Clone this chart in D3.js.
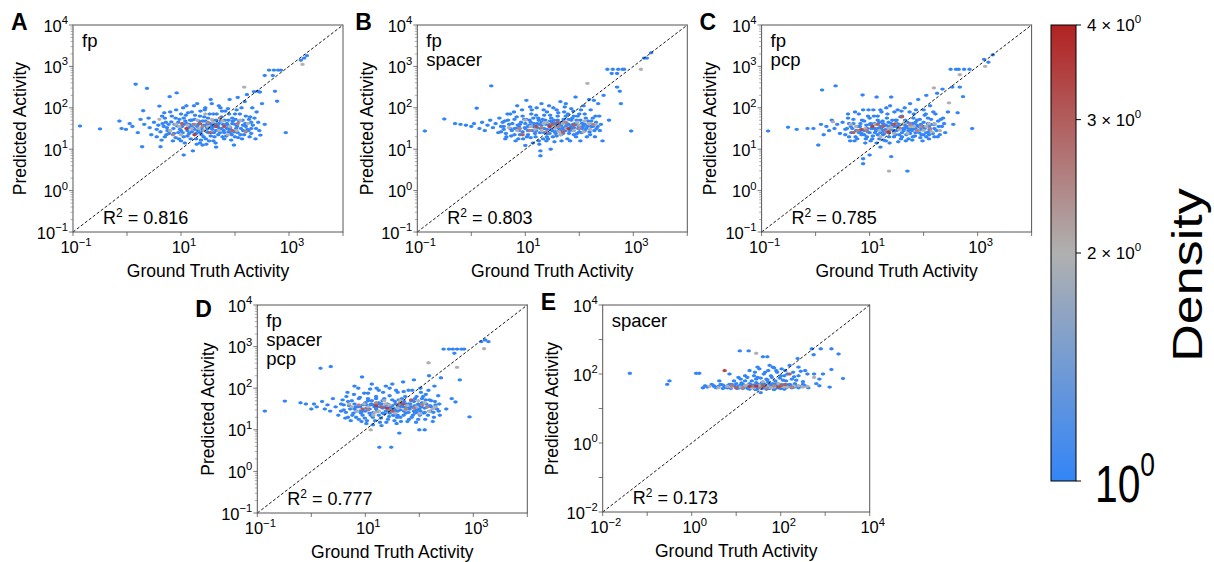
<!DOCTYPE html>
<html>
<head>
<meta charset="utf-8">
<script src="https://cdn.jsdelivr.net/npm/d3@7"></script>
<style>
  body { margin: 0; background: #fff; }
  text { font-family: "Liberation Sans", Arial, sans-serif; fill: #000; }
</style>
</head>
<body>
<svg id="fig" width="1214" height="562"></svg>
<script>
// points are [log10(ground truth), log10(predicted), density]; density defaults to 1
var dataA = [
  [-0.87,1.56],[-0.5,1.49],[0.16,2.57],[0.37,2.47],[-0.14,1.68],[-0.1,1.5],[-0.02,1.48],[0.05,1.62],[0.1,1.55],[0.2,1.4],
  [0.25,1.72],[0.3,1.93],[0.28,1.06],[0.32,1.6],[0.4,1.75],[0.42,1.52],[0.45,1.35],[0.5,1.65],[0.55,1.48],[0.6,2.04],
  [0.62,1.06],[0.65,1.8],[0.68,1.55],[0.7,1.3],[0.72,1.65],[0.79,2.27],[0.75,1.45],[0.8,1.9],[0.85,1.2],[0.88,1.6],
  [0.92,2.36],[0.9,1.75],[0.95,1.4],[1.0,1.85],[1.02,1.55],[1.05,0.86],[1.05,1.3],[1.08,1.68],[1.1,2.05],[1.12,1.45],
  [1.15,1.6],[1.18,1.25],[1.2,1.9],[1.22,0.96],[1.22,1.52],[1.25,1.72],[1.28,1.38],[1.3,2.1],[1.32,1.6],[1.35,1.15],
  [1.35,1.8],[1.38,1.5],[1.4,1.68],[1.42,1.3],[1.45,2.0],[1.45,1.58],[1.48,1.42],[1.5,1.75],[1.52,1.2],[1.55,1.62],
  [1.55,2.2],[1.58,1.48],[1.6,1.85],[1.62,1.3],[1.65,1.7],[1.65,1.05],[1.68,1.55],[1.7,2.05],[1.72,1.4],[1.75,1.78],
  [1.78,1.6],[1.8,1.25],[1.82,1.92],[1.85,1.5],[1.88,1.7],[1.9,2.2],[1.92,1.38],[1.95,1.62],[1.98,1.1],[2.0,1.85],
  [2.02,1.5],[2.05,2.25],[2.08,1.68],[2.1,1.35],[2.12,2.0],[2.15,1.58],[2.2,1.8],[2.22,2.32],[2.25,1.45],[2.3,1.65],
  [2.35,2.39],[2.38,1.25],[2.4,1.9],[2.42,2.4],[2.46,2.38],[2.47,1.34],[2.5,2.1],[2.55,2.78],[2.55,1.6],[2.63,2.91],
  [2.7,2.78],[2.74,2.4],[2.78,2.16],[2.72,2.91],[2.8,2.91],[2.85,2.91],[2.94,1.4],[3.22,3.15],[3.33,3.26],[3.28,3.2],
  [1.0,1.45],[1.1,1.62],[1.2,1.7],[1.3,1.55],[1.4,1.45],[1.5,1.5],[1.6,1.55],[1.7,1.62],[1.8,1.4],[1.9,1.48],
  [2.0,1.6],[1.15,1.38],[1.25,1.48],[1.45,1.68],[1.55,1.32],[1.75,1.5],[1.85,1.62],[1.95,1.75],[2.05,1.4],[2.2,1.55],
  [0.95,1.65],[1.05,1.75],[1.35,1.4],[1.65,1.45],[2.15,1.45],[2.3,1.5],[2.28,1.78],[2.0,1.3],[1.6,1.2],[1.4,1.1],
  [2.17,2.5,2],[3.25,3.05,2],[0.9,1.6,2],[1.2,1.5,2],[1.5,1.55,2],[1.7,1.45,2],[1.3,1.7,2],[1.9,1.55,2],[2.1,1.7,2],
  [1.0,1.35,2],[1.6,1.65,2],[1.45,1.85,2],[0.8,1.45,2],
  [1.1,1.5,3.5],[1.35,1.62,3],[1.55,1.4,3],[1.8,1.55,3.2],[1.25,1.35,3.5]
];
var coreA = [
  [0.62,1.42],[0.66,1.62],[0.7,1.75],[0.74,1.52],[0.78,1.38],[0.82,1.66],[0.86,1.5],[0.9,1.28],[0.93,1.56],[0.97,1.72],
  [1.0,1.2],[1.03,1.4],[1.06,1.6],[1.09,1.82],[1.12,1.32],[1.14,1.52],[1.17,1.7],[1.2,1.42],[1.23,1.6],[1.26,1.82],
  [1.28,1.25],[1.31,1.45],[1.33,1.68],[1.36,1.92],[1.38,1.35],[1.41,1.58],[1.43,1.78],[1.46,1.25],[1.49,1.6],[1.51,1.4],
  [1.53,1.85],[1.56,1.52],[1.59,1.7],[1.61,1.4],[1.63,1.6],[1.66,1.85],[1.69,1.35],[1.71,1.5],[1.74,1.68],[1.76,1.92],
  [1.79,1.45],[1.81,1.7],[1.84,1.32],[1.86,1.58],[1.89,1.85],[1.91,1.52],[1.94,1.35],[1.96,1.68],[1.99,1.42],[2.01,1.72],
  [2.04,1.55],[2.06,1.28],[2.09,1.85],[2.11,1.5],[2.14,1.7],[2.17,1.35],[2.19,1.62],[2.23,1.48],[2.26,1.72],[2.3,1.38],
  [2.33,1.58],[2.36,1.75],[2.39,1.5],[2.43,1.65],[1.18,1.55],[1.48,1.52],[1.68,1.6],[1.88,1.42],[0.98,1.48],[1.58,1.58]
];
var fillA = [
  [0.55,1.3],[0.58,1.58],[0.64,1.22],[0.69,1.88],[0.73,1.35],[0.77,1.6],[0.83,1.8],[0.87,1.38],[0.91,1.95],[0.96,1.25],
  [1.04,2.0],[1.07,1.15],[1.13,1.88],[1.24,2.05],[1.29,1.12],[1.37,1.22],[1.44,1.95],[1.47,1.12],[1.57,2.1],[1.64,1.15],
  [1.73,2.0],[1.77,1.3],[1.87,1.98],[1.93,1.22],[2.03,1.95],[2.13,1.25],[2.18,2.15],[2.27,1.3],[2.32,2.0],[2.45,1.45],
  [0.6,1.72,2],[1.12,1.58,2],[1.33,1.5,2],[1.57,1.72,2],[1.77,1.68,2],[2.03,1.45,2],[2.24,1.62,2],[1.43,1.45,2],[0.97,1.55,2],[1.87,1.35,2],
  [1.02,1.62,3],[1.65,1.55,3.3],[1.95,1.45,3],[2.05,1.62,2.6],[1.5,1.65,2.5],[1.25,1.6,2.5],[0.85,1.35,2.5],[2.2,1.42,2.5],[1.72,1.75,2.5],[1.4,1.55,2.5]
];
var dataB = [
  [-0.86,1.44],[-0.5,1.73],[-0.3,1.62],[-0.2,1.6],[-0.1,1.58],[0.0,1.55],[0.1,1.99],[0.05,1.62],[0.15,1.5],[0.2,1.65],
  [0.25,1.45],[0.37,2.53],[0.3,1.58],[0.35,1.7],[0.4,1.52],[0.45,1.62],[0.5,1.4],[0.52,1.75],[0.55,1.55],[0.6,1.48],
  [0.62,1.68],[0.65,1.3],[0.7,1.6],[0.72,1.85],[0.75,1.45],[0.8,1.72],[0.82,1.2],[0.85,2.05],[0.88,1.55],[0.9,1.35],
  [0.95,1.8],[1.0,1.09],[1.0,1.62],[1.02,2.18],[1.05,1.45],[1.08,1.7],[1.1,1.28],[1.12,1.95],[1.15,1.55],[1.18,1.38],
  [1.2,1.82],[1.22,1.62],[1.25,1.2],[1.28,0.96],[1.28,0.84],[1.28,1.5],[1.3,2.1],[1.32,1.72],[1.35,1.4],[1.38,1.6],
  [1.4,1.9],[1.42,1.25],[1.45,1.55],[1.47,1.0],[1.48,1.75],[1.5,1.45],[1.52,2.0],[1.55,1.62],[1.58,1.32],[1.6,1.8],
  [1.62,1.5],[1.65,2.15],[1.68,1.65],[1.7,1.38],[1.72,1.9],[1.75,1.55],[1.75,2.1],[1.78,1.25],[1.8,1.72],[1.82,1.45],
  [1.85,1.98],[1.88,1.6],[1.9,1.35],[1.93,2.26],[1.95,1.7],[1.98,1.5],[2.0,1.85],[2.02,1.2],[2.05,1.62],[2.08,2.05],
  [2.1,1.45],[2.12,1.75],[2.15,1.55],[2.18,2.2],[2.2,1.35],[2.22,1.68],[2.27,2.18],[2.3,1.8],[2.32,1.5],[2.35,2.1],
  [2.4,1.6],[2.43,1.2],[2.45,2.3],[2.52,2.93],[2.55,1.7],[2.6,2.83],[2.62,2.93],[2.7,2.5],[2.7,2.83],[2.72,2.93],
  [2.75,2.4],[2.77,2.1],[2.8,2.93],[2.83,2.93],[2.96,1.44],[3.2,3.2],[3.25,3.2],[3.33,3.33],
  [0.9,1.6],[1.0,1.5],[1.1,1.65],[1.2,1.45],[1.3,1.58],[1.4,1.48],[1.5,1.65],[1.6,1.58],[1.7,1.5],[1.8,1.6],
  [1.9,1.52],[2.0,1.42],[1.15,1.75],[1.35,1.82],[1.55,1.42],[1.65,1.45],[1.85,1.7],[1.95,1.6],[2.05,1.5],[0.8,1.5],
  [0.95,1.42],[1.25,1.7],[1.45,1.38],[1.75,1.8],[2.1,1.6],[2.25,1.55],[1.05,1.55],[1.6,1.7],[1.4,1.3],[1.9,1.8],
  [2.15,2.59,2],[3.14,2.93,2],[1.1,1.55,2],[1.3,1.45,2],[1.55,1.5,2],[1.7,1.62,2],[1.9,1.45,2],[2.0,1.58,2],
  [2.2,1.48,2],[1.4,1.65,2],[1.65,1.35,2],[0.85,1.45,2],[2.1,1.68,2],[2.3,1.6,2],
  [1.2,1.55,3.2],[1.45,1.55,3.5],[1.6,1.65,3],[1.8,1.5,3.6],[0.95,1.35,3],[1.7,1.42,3]
];
var coreB = [
  [0.6,1.55],[0.64,1.38],[0.68,1.7],[0.72,1.5],[0.76,1.62],[0.8,1.35],[0.84,1.78],[0.88,1.45],[0.92,1.65],[0.96,1.25],
  [0.99,1.52],[1.02,1.72],[1.05,1.35],[1.08,1.58],[1.11,1.85],[1.13,1.45],[1.16,1.62],[1.19,1.3],[1.22,1.52],[1.24,1.75],
  [1.27,1.4],[1.3,1.65],[1.33,1.25],[1.35,1.5],[1.37,1.7],[1.4,1.38],[1.43,1.6],[1.46,1.82],[1.48,1.48],[1.51,1.3],
  [1.53,1.7],[1.56,1.55],[1.59,1.42],[1.61,1.88],[1.63,1.62],[1.66,1.35],[1.69,1.52],[1.71,1.72],[1.74,1.45],[1.77,1.62],
  [1.79,1.85],[1.81,1.38],[1.84,1.55],[1.87,1.75],[1.89,1.45],[1.92,1.62],[1.94,1.3],[1.97,1.8],[1.99,1.55],[2.02,1.7],
  [2.04,1.4],[2.07,1.55],[2.1,1.85],[2.13,1.5],[2.16,1.68],[2.19,1.42],[2.22,1.55],[2.25,1.75],[2.28,1.45],[2.31,1.65],
  [2.34,1.55],[2.37,1.8],[1.26,1.6],[1.46,1.68],[1.66,1.58],[1.86,1.5],[1.06,1.45],[0.86,1.58],[2.06,1.62],[1.56,1.38]
];
var fillB = [
  [0.55,1.42],[0.58,1.65],[0.63,1.25],[0.67,1.85],[0.74,1.32],[0.79,1.9],[0.83,1.5],[0.87,1.25],[0.94,1.95],[0.98,1.72],
  [1.03,1.3],[1.09,2.02],[1.14,1.15],[1.21,2.0],[1.26,1.12],[1.34,1.95],[1.39,1.2],[1.44,2.05],[1.54,1.18],[1.58,1.95],
  [1.67,1.2],[1.73,2.02],[1.83,1.2],[1.89,1.92],[1.96,1.38],[2.03,1.95],[2.14,1.3],[2.21,1.95],[2.29,1.3],[2.38,1.45],
  [0.7,1.52,2],[1.0,1.7,2],[1.18,1.48,2],[1.34,1.62,2],[1.52,1.55,2],[1.76,1.5,2],[1.96,1.65,2],[2.18,1.62,2],[1.62,1.42,2],[2.08,1.42,2],
  [1.3,1.52,2.6],[1.5,1.6,3],[1.9,1.58,3],[1.08,1.45,2.6],[1.75,1.65,2.5],[2.0,1.5,2.5],[1.4,1.42,2.5],[1.62,1.55,2.5],[0.9,1.5,2.5],[2.25,1.6,2.5]
];
var dataC = [
  [-0.88,1.44],[-0.51,1.53],[-0.35,1.48],[-0.15,1.5],[-0.04,1.5],[0.12,2.43],[0.37,2.53],[0.05,1.1],[0.1,1.6],[0.15,1.35],
  [0.2,1.55],[0.25,1.45],[0.3,1.7],[0.35,1.5],[0.4,1.6],[0.45,1.38],[0.5,1.65],[0.55,1.48],[0.6,1.75],[0.62,1.3],
  [0.65,1.55],[0.7,1.62],[0.72,1.2],[0.75,1.45],[0.8,1.85],[0.82,1.55],[0.85,1.35],[0.87,2.31],[0.88,0.65],[0.88,0.77],
  [0.9,1.68],[0.92,1.15],[0.95,1.5],[0.98,1.95],[1.0,0.86],[1.0,1.4],[1.02,1.62],[1.05,1.25],[1.08,1.8],[1.1,1.5],
  [1.13,2.26],[1.15,1.35],[1.18,1.65],[1.2,1.05],[1.22,1.9],[1.25,1.45],[1.28,1.58],[1.3,1.2],[1.32,1.75],[1.35,1.4],
  [1.38,2.05],[1.4,2.26],[1.4,0.82],[1.42,1.55],[1.45,1.3],[1.48,1.7],[1.5,1.45],[1.52,1.95],[1.55,1.6],[1.58,1.25],
  [1.6,1.8],[1.62,1.5],[1.65,2.0],[1.68,1.35],[1.7,0.47],[1.7,1.65],[1.72,1.45],[1.75,2.1],[1.78,1.58],[1.8,1.3],
  [1.82,1.85],[1.85,1.5],[1.88,1.7],[1.9,2.2],[1.92,1.4],[1.95,1.6],[1.98,1.2],[2.0,1.95],[2.02,1.5],[2.05,2.3],
  [2.08,1.75],[2.1,1.42],[2.12,2.05],[2.15,1.6],[2.2,1.3],[2.22,1.85],[2.25,2.35],[2.28,1.55],[2.32,1.72],[2.35,2.45],
  [2.4,1.4],[2.45,1.9],[2.5,2.93],[2.53,2.5],[2.55,1.6],[2.6,2.93],[2.63,1.88],[2.65,2.93],[2.67,2.5],[2.73,2.27],
  [2.75,2.93],[2.85,2.93],[2.9,1.5],[3.12,3.17],[3.28,3.28],[3.2,3.1],
  [0.9,1.45],[1.0,1.6],[1.1,1.4],[1.2,1.55],[1.3,1.48],[1.4,1.62],[1.5,1.55],[1.6,1.4],[1.7,1.52],[1.8,1.62],
  [1.9,1.55],[2.0,1.65],[2.1,1.55],[1.05,1.5],[1.15,1.7],[1.25,1.35],[1.35,1.55],[1.45,1.45],[1.55,1.35],[1.65,1.58],
  [1.75,1.38],[1.85,1.4],[1.95,1.48],[2.05,1.4],[0.8,1.4],[0.95,1.3],[1.2,1.4],[1.5,1.7],[1.8,1.48],[2.2,1.5],
  [2.19,2.48,2],[2.47,2.12,2],[2.67,2.8,2],[3.14,3.0,2],[1.36,0.47,2],[0.32,1.66,2],[0.75,1.55,2],[1.1,1.6,2],
  [1.35,1.5,2],[1.55,1.48,2],[1.75,1.55,2],[1.9,1.45,2],[2.05,1.55,2],[2.15,1.42,2],[1.45,1.38,2],[1.65,1.65,2],
  [2.3,1.45,2],[1.2,1.3,2],
  [0.85,1.48,3.3],[1.05,1.55,3.5],[1.25,1.55,3],[1.45,1.6,3.2],[1.6,1.78,3],[0.7,1.4,3],[1.35,1.42,3.5]
];
var coreC = [
  [0.58,1.5],[0.62,1.62],[0.66,1.4],[0.7,1.72],[0.74,1.3],[0.78,1.55],[0.82,1.45],[0.86,1.7],[0.9,1.35],[0.94,1.58],
  [0.97,1.42],[1.0,1.75],[1.03,1.5],[1.06,1.32],[1.09,1.62],[1.12,1.45],[1.15,1.8],[1.18,1.25],[1.21,1.5],[1.24,1.68],
  [1.27,1.38],[1.3,1.58],[1.33,1.85],[1.36,1.3],[1.39,1.48],[1.42,1.7],[1.45,1.55],[1.48,1.35],[1.51,1.62],[1.54,1.48],
  [1.57,1.78],[1.6,1.3],[1.63,1.45],[1.66,1.7],[1.69,1.55],[1.72,1.25],[1.75,1.62],[1.78,1.45],[1.81,1.75],[1.84,1.32],
  [1.87,1.58],[1.9,1.45],[1.93,1.72],[1.96,1.35],[1.99,1.55],[2.02,1.82],[2.05,1.3],[2.08,1.62],[2.11,1.48],[2.14,1.72],
  [2.17,1.38],[2.2,1.6],[2.24,1.45],[2.27,1.68],[2.3,1.35],[2.34,1.55],[2.38,1.62],[1.25,1.62],[1.45,1.42],[1.65,1.5],
  [1.85,1.65],[1.05,1.6],[0.85,1.38],[2.0,1.35],[1.55,1.6],[1.75,1.5],[1.35,1.65],[1.15,1.5],[0.95,1.5],[2.1,1.35]
];
var fillC = [
  [0.55,1.35],[0.6,1.85],[0.64,1.2],[0.68,1.5],[0.73,1.9],[0.77,1.25],[0.83,1.62],[0.88,1.95],[0.93,1.25],[0.97,1.8],
  [1.02,1.2],[1.07,1.95],[1.13,1.15],[1.2,1.95],[1.26,1.22],[1.31,2.0],[1.37,1.15],[1.46,1.9],[1.53,1.18],[1.59,1.92],
  [1.67,1.2],[1.74,1.9],[1.79,1.22],[1.86,1.95],[1.94,1.28],[2.04,1.85],[2.1,1.25],[2.18,1.9],[2.26,1.3],[2.36,1.75],
  [0.65,1.6,2],[0.92,1.5,2],[1.18,1.45,2],[1.4,1.52,2],[1.6,1.6,2],[1.82,1.55,2],[2.0,1.45,2],[2.2,1.62,2],[1.7,1.38,2],[2.1,1.62,2],
  [0.95,1.45,2.6],[1.15,1.6,3],[1.55,1.52,2.6],[1.3,1.42,2.5],[1.75,1.6,2.5],[1.95,1.55,2.5],[2.12,1.5,2.5],[0.78,1.45,2.5],[1.48,1.62,2.5],[1.88,1.45,2.5]
];
var dataD = [
  [-0.86,1.45],[-0.49,1.69],[-0.2,1.65],[-0.1,1.62],[0.17,2.48],[0.36,2.52],[0.0,1.5],[0.05,1.62],[0.1,1.55],[0.2,1.68],
  [0.25,1.5],[0.3,1.6],[0.35,1.45],[0.4,1.75],[0.45,1.55],[0.5,1.35],[0.55,1.62],[0.6,1.48],[0.65,1.8],[0.68,1.3],
  [0.7,1.58],[0.75,1.7],[0.78,1.4],[0.8,2.05],[0.85,1.55],[0.88,1.25],[0.9,1.78],[0.94,2.27],[0.95,1.45],[1.0,1.65],
  [1.02,1.15],[1.05,1.88],[1.08,1.5],[1.1,1.35],[1.12,2.1],[1.15,1.6],[1.18,1.22],[1.2,1.75],[1.22,1.45],[1.25,1.95],
  [1.26,0.58],[1.28,1.55],[1.3,1.1],[1.32,1.7],[1.35,1.38],[1.38,2.05],[1.4,1.6],[1.42,1.25],[1.45,1.82],[1.48,0.58],
  [1.48,1.5],[1.5,2.1],[1.52,1.35],[1.55,1.68],[1.58,1.15],[1.6,1.9],[1.62,1.55],[1.63,0.92],[1.65,1.3],[1.68,1.75],
  [1.7,2.15],[1.72,1.45],[1.75,1.62],[1.78,1.2],[1.8,1.95],[1.82,1.5],[1.85,1.7],[1.88,1.35],[1.9,2.2],[1.92,1.58],
  [1.95,1.8],[1.98,1.25],[2.0,1.0],[2.0,1.5],[2.02,2.0],[2.05,1.65],[2.08,1.4],[2.1,1.0],[2.12,1.85],[2.15,1.55],
  [2.18,2.3],[2.2,1.45],[2.22,1.7],[2.25,1.2],[2.28,2.05],[2.3,1.6],[2.35,1.82],[2.38,1.35],[2.4,2.25],[2.45,2.94],
  [2.5,1.5],[2.55,2.94],[2.6,1.75],[2.62,2.94],[2.65,2.84],[2.67,1.67],[2.7,2.94],[2.75,2.2],[2.78,2.94],[2.83,2.94],
  [2.93,1.31],[3.15,3.12],[3.28,3.12],[3.22,3.16],
  [0.9,1.55],[1.0,1.45],[1.1,1.6],[1.2,1.5],[1.3,1.62],[1.4,1.45],[1.5,1.58],[1.6,1.45],[1.7,1.55],[1.8,1.62],
  [1.9,1.45],[2.0,1.58],[2.1,1.52],[1.05,1.7],[1.15,1.42],[1.25,1.35],[1.35,1.55],[1.45,1.4],[1.55,1.5],[1.65,1.65],
  [1.75,1.4],[1.85,1.55],[1.95,1.42],[2.05,1.75],[0.8,1.5],[0.95,1.35],[1.25,1.65],[1.6,1.35],[1.9,1.68],[2.2,1.58],
  [1.1,1.0,2],[2.17,2.61,2],[2.7,2.5,2],[3.2,2.95,2],[0.85,1.45,2],[1.05,1.55,2],[1.25,1.45,2],[1.45,1.6,2],
  [1.6,1.52,2],[1.75,1.48,2],[1.95,1.55,2],[2.1,1.65,2],[2.25,1.5,2],[1.35,1.7,2],[1.15,1.35,2],[0.7,1.62,2],[2.0,1.38,2],
  [1.2,1.58,3.5],[1.5,1.45,3],[1.7,1.62,3.2],[1.85,1.72,3],[0.95,1.5,3],[1.4,1.52,3.5]
];
var coreD = [
  [0.6,1.6],[0.64,1.42],[0.68,1.68],[0.72,1.5],[0.76,1.35],[0.8,1.62],[0.84,1.45],[0.88,1.75],[0.92,1.4],[0.96,1.6],
  [0.99,1.28],[1.02,1.52],[1.05,1.75],[1.08,1.4],[1.11,1.62],[1.14,1.3],[1.17,1.55],[1.2,1.8],[1.23,1.45],[1.26,1.62],
  [1.29,1.28],[1.32,1.52],[1.35,1.75],[1.38,1.45],[1.41,1.62],[1.44,1.32],[1.47,1.55],[1.5,1.72],[1.53,1.45],[1.56,1.62],
  [1.59,1.3],[1.62,1.72],[1.65,1.48],[1.68,1.6],[1.71,1.35],[1.74,1.8],[1.77,1.55],[1.8,1.42],[1.83,1.62],[1.86,1.3],
  [1.89,1.55],[1.92,1.75],[1.95,1.48],[1.98,1.62],[2.01,1.35],[2.04,1.55],[2.07,1.8],[2.1,1.42],[2.13,1.62],[2.16,1.35],
  [2.19,1.72],[2.22,1.55],[2.26,1.42],[2.29,1.68],[2.33,1.5],[2.37,1.62],[1.22,1.55],[1.42,1.52],[1.62,1.55],[1.82,1.55],
  [1.02,1.6],[0.82,1.55],[2.02,1.45],[1.52,1.35],[1.72,1.68],[1.32,1.4],[1.12,1.7],[1.92,1.4],[2.12,1.72],[0.9,1.45]
];
var fillD = [
  [0.55,1.45],[0.58,1.72],[0.63,1.28],[0.67,1.9],[0.73,1.22],[0.79,1.85],[0.83,1.3],[0.87,2.0],[0.93,1.2],[0.98,1.88],
  [1.03,1.22],[1.09,1.98],[1.14,1.12],[1.21,2.0],[1.27,1.18],[1.33,1.9],[1.39,1.18],[1.45,2.0],[1.54,1.22],[1.57,1.95],
  [1.66,1.2],[1.71,1.92],[1.81,1.25],[1.87,1.95],[1.94,1.18],[2.03,1.9],[2.11,1.25],[2.17,1.95],[2.27,1.3],[2.36,1.45],
  [0.75,1.55,2],[0.98,1.62,2],[1.18,1.42,2],[1.38,1.62,2],[1.55,1.4,2],[1.78,1.58,2],[1.98,1.7,2],[2.18,1.45,2],[1.65,1.7,2],[2.3,1.55,2],
  [1.05,1.48,2.6],[1.3,1.55,3],[1.62,1.62,2.6],[1.9,1.52,2.6],[1.45,1.48,2.5],[1.75,1.5,2.5],[2.05,1.6,2.5],[0.88,1.6,2.5],[1.2,1.65,2.5],[2.15,1.55,2.5]
];
var dataE = [
  [-1.39,2.02],[-0.55,1.7],[-0.5,1.8],[0.1,2.02],[0.17,2.02],[0.3,1.66],[0.5,1.64],[0.7,1.68],[0.62,1.8],[0.8,1.6],
  [0.85,2.0],[0.9,1.7],[1.0,1.62],[1.08,2.67],[1.05,1.9],[1.1,1.68],[1.15,1.58],[1.2,1.95],[1.25,1.65],[1.28,2.67],
  [1.3,2.1],[1.32,1.6],[1.35,1.8],[1.4,1.68],[1.42,2.05],[1.45,1.55],[1.48,1.9],[1.5,1.65],[1.52,2.15],[1.55,1.46],
  [1.58,1.75],[1.6,2.5],[1.6,1.62],[1.62,2.0],[1.65,1.68],[1.68,1.85],[1.7,2.5],[1.7,1.6],[1.72,2.1],[1.75,1.7],
  [1.78,1.95],[1.8,1.62],[1.82,2.2],[1.85,2.18],[1.85,1.55],[1.88,1.8],[1.9,1.66],[1.92,2.05],[1.95,1.6],[1.98,1.88],
  [2.0,1.7],[2.02,2.15],[2.05,1.62],[2.08,1.95],[2.1,1.65],[2.12,1.8],[2.15,2.0],[2.2,2.25],[2.2,1.7],[2.25,1.85],
  [2.28,2.05],[2.3,1.62],[2.38,2.45],[2.4,1.95],[2.45,2.08],[2.5,1.7],[2.55,2.1],[2.6,2.0],[2.7,2.73],[2.74,2.56],
  [2.75,2.0],[2.8,1.72],[2.87,1.85],[2.87,1.66],[2.9,2.73],[2.95,2.0],[3.14,2.73],[3.14,2.13],[3.1,1.62],[3.3,2.58],
  [3.4,1.87],
  [0.6,1.64],[0.75,1.62],[0.95,1.66],[1.05,1.64],[1.15,1.7],[1.22,1.62],[1.38,1.62],[1.5,1.7],[1.65,1.62],[1.78,1.66],
  [1.92,1.62],[2.05,1.68],[2.18,1.64],[2.35,1.66],[1.3,1.72],[1.45,1.75],[1.58,1.58],[1.75,1.58],[2.0,1.58],[2.12,1.6],
  [1.45,2.6,2],[0.4,1.64,2],[0.9,1.62,2],[1.2,1.66,2],[1.4,1.6,2],[1.55,1.62,2],[1.7,1.65,2],[1.85,1.62,2],
  [2.0,1.64,2],[2.15,1.62,2],[2.3,1.65,2],[2.5,1.62,2],[1.6,1.78,2],[1.95,1.72,2],[2.75,1.9,2],
  [0.74,2.1,3.3],[1.0,1.6,3],[1.3,1.64,3.5],[1.6,1.66,3],[1.95,1.62,3.2],[2.1,1.7,3],[1.45,1.65,3.6],[2.2,2.0,3]
];
var coreE = [
  [0.35,1.62],[0.45,1.7],[0.55,1.6],[0.65,1.7],[0.8,1.66],[0.88,1.58],[1.0,1.72],[1.08,1.6],[1.18,1.64],[1.26,1.58],
  [1.35,1.68],[1.42,1.56],[1.52,1.62],[1.62,1.72],[1.68,1.56],[1.75,1.64],[1.82,1.72],[1.88,1.58],[1.98,1.66],[2.08,1.56],
  [2.15,1.68],[2.25,1.6],[2.32,1.72],[2.42,1.64],[2.55,1.66],[2.62,1.6],[1.1,1.85],[1.25,1.9],[1.4,1.95],[1.55,1.88],
  [1.65,2.05],[1.8,1.9],[1.9,2.1],[2.0,1.95],[2.1,2.1],[2.3,1.92],[1.48,2.2],[1.75,2.25],[2.4,2.2],[0.95,1.8]
];
var fillE = [
  [0.25,1.6],[0.5,1.66],[0.7,1.58],[0.85,1.7],[1.02,1.58],[1.12,1.74],[1.3,1.56],[1.48,1.58],[1.58,1.68],[1.72,1.76],
  [1.9,1.72],[2.02,1.6],[2.22,1.68],[2.4,1.6],[2.5,1.78],[1.2,1.8],[1.45,1.85],[1.7,1.82],[2.05,1.82],[2.35,1.82],
  [0.6,1.6,2],[0.8,1.64,2],[1.1,1.62,2],[1.35,1.6,2],[1.52,1.66,2],[1.78,1.6,2],[2.08,1.62,2],[2.4,1.66,2],[2.6,1.64,2],[1.25,1.68,2],
  [0.9,1.66,2.6],[1.15,1.6,2.5],[1.4,1.64,2.6],[1.68,1.6,2.5],[1.85,1.66,2.5],[2.25,1.62,2.5],[2.0,1.66,3],[1.55,1.6,2.5]
];

var panelLetters = ["A", "B", "C", "D", "E"];
var panelTags = [["fp"], ["fp", "spacer"], ["fp", "pcp"], ["fp", "spacer", "pcp"], ["spacer"]];
var r2Values = ["0.816", "0.803", "0.785", "0.777", "0.173"];
var logDomains = [[-1, 4], [-1, 4], [-1, 4], [-1, 4], [-2, 4]];
var xTickExps = [[-1, 1, 3], [-1, 1, 3], [-1, 1, 3], [-1, 1, 3], [-2, 0, 2, 4]];
var yTickExps = [[-1, 0, 1, 2, 3, 4], [-1, 0, 1, 2, 3, 4], [-1, 0, 1, 2, 3, 4], [-1, 0, 1, 2, 3, 4], [-2, 0, 2, 4]];
var densityDomain = [1, 4];
var densityTicks = [1, 2, 3, 4];

// layout of the five panels
var boxes = [
  {left: 73,    top: 25,  w: 270, h: 207, ylabOff: 47, letterDy: 5,  minor: true},
  {left: 417.3, top: 25,  w: 270, h: 207, ylabOff: 44, letterDy: 5,  minor: true},
  {left: 761.6, top: 25,  w: 270, h: 207, ylabOff: 46, letterDy: 5,  minor: true},
  {left: 257.3, top: 305, w: 270, h: 208, ylabOff: 43, letterDy: 12, minor: true},
  {left: 602.7, top: 305, w: 267, h: 207, ylabOff: 45, letterDy: 5,  minor: false}
];
var allData = [
  dataA.concat(coreA, fillA), dataB.concat(coreB, fillB), dataC.concat(coreC, fillC),
  dataD.concat(coreD, fillD), dataE.concat(coreE, fillE)
];

var svg = d3.select("#fig");
svg.append("rect").attr("width", 1214).attr("height", 562).attr("fill", "#fff");

var cmap = d3.piecewise(d3.interpolateRgb, ["#3385f7", "#b0b0b0", "#b22222"]);
var dens = d3.scaleLog().domain(densityDomain).range([0, 1]).clamp(true);
function colorOf(d) { return cmap(dens(d)); }

var hw = 4.2, hh = 3.4;
var hexPath = "M0," + (-hh/2) + "L" + (hw/2) + "," + (-hh/4) + "L" + (hw/2) + "," + (hh/4) +
  "L0," + (hh/2) + "L" + (-hw/2) + "," + (hh/4) + "L" + (-hw/2) + "," + (-hh/4) + "Z";

function powText(sel, exp, fs) {
  sel.append("tspan").text("10");
  sel.append("tspan").attr("dy", -fs * 0.45).attr("font-size", fs * 0.68)
    .text(String(exp).replace("-", "\u2212"));
}

boxes.forEach(function(b, i) {
  var dom = logDomains[i];
  var x = d3.scaleLog().domain([Math.pow(10, dom[0]), Math.pow(10, dom[1])]).range([0, b.w]);
  var y = d3.scaleLog().domain([Math.pow(10, dom[0]), Math.pow(10, dom[1])]).range([b.h, 0]);
  var g = svg.append("g").attr("transform", "translate(" + b.left + "," + b.top + ")");

  // hexbin cells, denser ones drawn last
  var pts = allData[i].map(function(p) { return {x: p[0], y: p[1], d: p[2] || 1}; })
    .sort(function(a, c) { return a.d - c.d; });
  g.selectAll(".cell").data(pts).enter().append("path")
    .attr("class", "cell")
    .attr("d", hexPath)
    .attr("transform", function(p) {
      return "translate(" + x(Math.pow(10, p.x)) + "," + y(Math.pow(10, p.y)) + ")";
    })
    .attr("fill", function(p) { return colorOf(p.d); });

  // y = x reference line
  g.append("line")
    .attr("x1", x(Math.pow(10, dom[0]))).attr("y1", y(Math.pow(10, dom[0])))
    .attr("x2", x(Math.pow(10, dom[1]))).attr("y2", y(Math.pow(10, dom[1])))
    .attr("stroke", "#000").attr("stroke-width", 0.9).attr("stroke-dasharray", "3,2");

  // frame
  g.append("rect").attr("width", b.w).attr("height", b.h)
    .attr("fill", "none").attr("stroke", "#555").attr("stroke-width", 1);

  // ticks
  var majors = d3.range(dom[0], dom[1] + 1);
  majors.forEach(function(e) {
    var v = Math.pow(10, e);
    g.append("line").attr("x1", 0).attr("x2", -4).attr("y1", y(v)).attr("y2", y(v))
      .attr("stroke", "#555").attr("stroke-width", 0.8);
    g.append("line").attr("y1", b.h).attr("y2", b.h + 4).attr("x1", x(v)).attr("x2", x(v))
      .attr("stroke", "#555").attr("stroke-width", 0.8);
  });
  if (b.minor) {
    d3.range(dom[0], dom[1]).forEach(function(e) {
      d3.range(2, 10).forEach(function(m) {
        var v = m * Math.pow(10, e);
        g.append("line").attr("x1", 0).attr("x2", -2.5).attr("y1", y(v)).attr("y2", y(v))
          .attr("stroke", "#777").attr("stroke-width", 0.6);
      });
    });
  }

  yTickExps[i].forEach(function(e) {
    var t = g.append("text").attr("x", -5).attr("y", y(Math.pow(10, e)) + 6.5)
      .attr("text-anchor", "end").attr("font-size", 16.5);
    powText(t, e, 16.5);
  });
  xTickExps[i].forEach(function(e) {
    var t = g.append("text").attr("x", x(Math.pow(10, e)) + 3).attr("y", b.h + 21)
      .attr("text-anchor", "middle").attr("font-size", 16.5);
    powText(t, e, 16.5);
  });

  // axis titles
  g.append("text").attr("x", b.w / 2).attr("y", b.h + 45)
    .attr("text-anchor", "middle").attr("font-size", 17.5).text("Ground Truth Activity");
  g.append("text").attr("transform", "translate(" + (-b.ylabOff) + "," + (b.h / 2) + ") rotate(-90)")
    .attr("text-anchor", "middle").attr("font-size", 17.5).text("Predicted Activity");

  // panel letter
  g.append("text").attr("x", -62).attr("y", b.letterDy)
    .attr("font-size", 23).attr("font-weight", "bold").text(panelLetters[i]);

  // feature tags
  panelTags[i].forEach(function(s, k) {
    g.append("text").attr("x", 9).attr("y", 22 + k * 19).attr("font-size", 18.5).text(s);
  });

  // R^2
  var r = g.append("text").attr("x", 30).attr("y", b.h - 8).attr("font-size", 18);
  r.append("tspan").text("R");
  r.append("tspan").attr("dy", -7).attr("font-size", 12).text("2");
  r.append("tspan").attr("dy", 7).text(" = " + r2Values[i]);
});

// colour bar
var cb = {left: 1051, top: 25, w: 25, h: 456};
var defs = svg.append("defs");
var grad = defs.append("linearGradient").attr("id", "cbgrad")
  .attr("x1", 0).attr("y1", 1).attr("x2", 0).attr("y2", 0);
d3.range(0, 1.0001, 0.05).forEach(function(t) {
  grad.append("stop").attr("offset", t).attr("stop-color", cmap(t));
});
var cg = svg.append("g").attr("transform", "translate(" + cb.left + "," + cb.top + ")");
cg.append("rect").attr("width", cb.w).attr("height", cb.h)
  .attr("fill", "url(#cbgrad)").attr("stroke", "#000").attr("stroke-width", 1);
var cy = d3.scaleLog().domain(densityDomain).range([cb.h, 0]);
densityTicks.forEach(function(v) {
  cg.append("line").attr("x1", cb.w).attr("x2", cb.w + 5).attr("y1", cy(v)).attr("y2", cy(v))
    .attr("stroke", "#000").attr("stroke-width", 1);
  if (v === 1) {
    var t = cg.append("text").attr("transform", "translate(" + (cb.w + 19) + "," + (cy(v) + 21) + ") scale(0.8,1)")
      .attr("font-size", 51);
    t.append("tspan").text("10");
    t.append("tspan").attr("dy", -26).attr("font-size", 33).text("0");
  } else {
    var t2 = cg.append("text").attr("x", cb.w + 11).attr("y", cy(v) + 6).attr("font-size", 17);
    t2.append("tspan").text(v + " \u00d7 10");
    t2.append("tspan").attr("dy", -8).attr("font-size", 11.5).text("0");
  }
});
svg.append("text")
  .attr("transform", "translate(1202,275) scale(0.8,1) rotate(-90)")
  .attr("text-anchor", "middle").attr("font-size", 52).text("Density");
</script>
</body>
</html>
